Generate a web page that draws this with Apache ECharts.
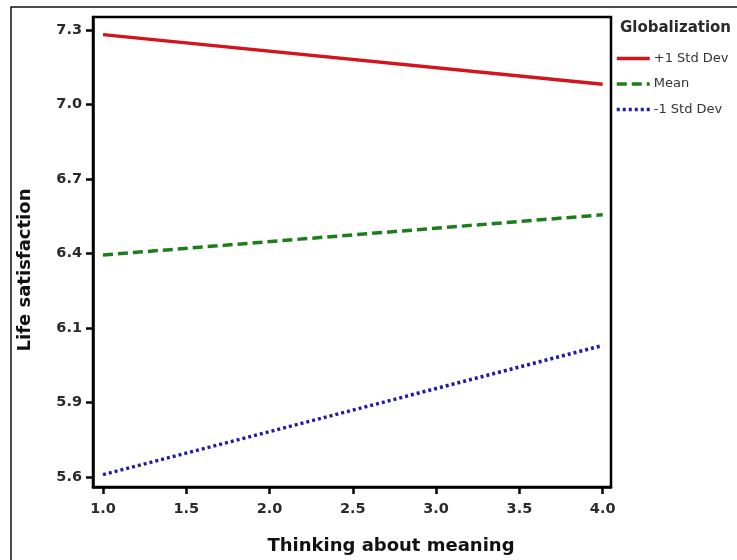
<!DOCTYPE html>
<html>
<head>
<meta charset="utf-8">
<script src="https://cdn.jsdelivr.net/npm/echarts@6/dist/echarts.min.js"></script>
<style>
  html, body { margin: 0; padding: 0; background: #fff; }
  #chart { width: 737px; height: 560px; }
</style>
</head>
<body>
<div id="chart"></div>
<script>
// x positions of the two ends of each simple slope
const xValues = [1.0, 4.0];
const xTicks = [1.0, 1.5, 2.0, 2.5, 3.0, 3.5, 4.0];

// predicted life satisfaction, in the units of the plotted axis
const plusOneSD = [7.282, 7.093];
const meanLine = [6.444, 6.597];
const minusOneSD = [5.609, 6.100];

const seriesNames = ['+1 Std Dev', 'Mean', '-1 Std Dev'];

// y axis tick labels as printed (evenly spaced from 5.6 to 7.3)
const yTickLabels = ['5.6', '5.9', '6.1', '6.4', '6.7', '7.0', '7.3'];
const yFirst = 5.6;
const yLast = 7.3;
const yStep = (yLast - yFirst) / (yTickLabels.length - 1);
const yTicks = yTickLabels.map((_, i) => yFirst + i * yStep);

const toPairs = (ys) => xValues.map((x, i) => [x, ys[i]]);

const chart = echarts.init(document.getElementById('chart'));

const FONT = 'DejaVu Sans, sans-serif';

const labelFont = {
  fontFamily: FONT,
  fontWeight: 'bold',
  fontSize: 14.5,
  color: '#2a2a2a'
};

const nameFont = {
  fontFamily: FONT,
  fontWeight: 'bold',
  fontSize: 18,
  color: '#111'
};

chart.setOption({
  animation: false,
  backgroundColor: '#fff',
  title: {
    text: 'Globalization',
    left: 620,
    top: 21,
    padding: 0,
    textStyle: {
      fontFamily: FONT,
      fontWeight: 'bold',
      fontSize: 15,
      color: '#2a2a2a'
    }
  },
  legend: {
    orient: 'vertical',
    left: 615,
    top: 52,
    padding: 0,
    itemWidth: 33,
    itemHeight: 12,
    itemGap: 12.5,
    data: seriesNames,
    itemStyle: { opacity: 0 },
    lineStyle: { width: 3.5 },
    textStyle: {
      fontFamily: FONT,
      fontSize: 13,
      color: '#333',
      padding: [0, 0, 0, -1]
    }
  },
  grid: {
    left: 93,
    top: 17,
    right: 126,
    bottom: 71,
    show: true,
    borderColor: '#000',
    borderWidth: 2.5,
    containLabel: false
  },
  xAxis: {
    type: 'value',
    min: 0.94,
    max: 4.05,
    name: 'Thinking about meaning',
    nameLocation: 'middle',
    nameGap: 50,
    nameTextStyle: { ...nameFont, padding: [0, 0, 0, 78] },
    axisLine: { show: true, lineStyle: { color: '#000', width: 2.5 } },
    axisTick: {
      show: true,
      length: 7,
      customValues: xTicks,
      lineStyle: { color: '#000', width: 2.5 }
    },
    axisLabel: {
      ...labelFont,
      margin: 15,
      customValues: xTicks,
      formatter: (v) => v.toFixed(1)
    },
    splitLine: { show: false }
  },
  yAxis: {
    type: 'value',
    min: 5.562,
    max: 7.349,
    name: 'Life satisfaction',
    nameLocation: 'middle',
    nameGap: 59,
    nameTextStyle: { ...nameFont, padding: [0, 36, 0, 0] },
    axisLine: { show: true, lineStyle: { color: '#000', width: 2.5 } },
    axisTick: {
      show: true,
      length: 7,
      customValues: yTicks,
      lineStyle: { color: '#000', width: 2.5 }
    },
    axisLabel: {
      ...labelFont,
      margin: 11,
      customValues: yTicks,
      formatter: (v) => yTickLabels[Math.round((v - yFirst) / yStep)]
    },
    splitLine: { show: false }
  },
  graphic: [
    {
      type: 'rect',
      shape: { x: 11, y: 7, width: 760, height: 600 },
      style: { fill: 'none', stroke: '#111', lineWidth: 1.5 },
      silent: true,
      z: 0
    }
  ],
  series: [
    {
      name: seriesNames[0],
      type: 'line',
      data: toPairs(plusOneSD),
      symbol: 'none',
      color: '#d3141c',
      lineStyle: { width: 3.5, type: 'solid' }
    },
    {
      name: seriesNames[1],
      type: 'line',
      data: toPairs(meanLine),
      symbol: 'none',
      color: '#1d7d1d',
      lineStyle: { width: 3.5, type: [10, 5] }
    },
    {
      name: seriesNames[2],
      type: 'line',
      data: toPairs(minusOneSD),
      symbol: 'none',
      color: '#1c1ca6',
      lineStyle: { width: 3.5, type: [3, 3] }
    }
  ]
});
</script>
</body>
</html>
